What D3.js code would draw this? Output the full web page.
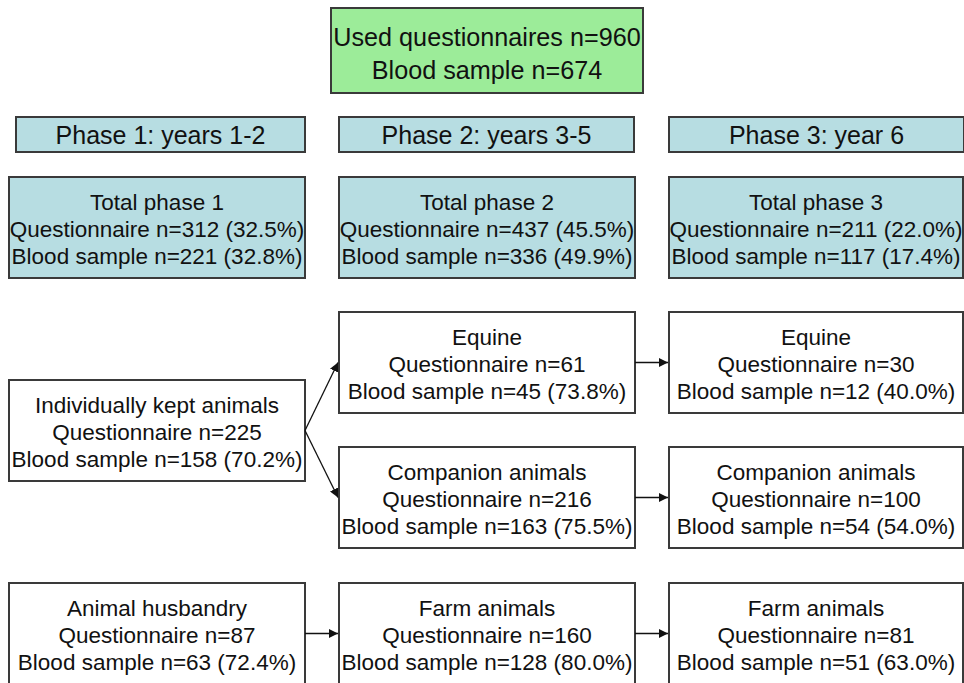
<!DOCTYPE html>
<html>
<head>
<meta charset="utf-8">
<script src="https://cdnjs.cloudflare.com/ajax/libs/d3/7.8.5/d3.min.js"></script>
<style>
  body { margin: 0; background: #fff; }
  text { font-family: "Liberation Sans", Arial, sans-serif; fill: #111; }
</style>
</head>
<body>
<script>
// ---- data ----
const topLines = ["Used questionnaires n=960", "Blood sample n=674"];

const phaseLabels = ["Phase 1: years 1-2", "Phase 2: years 3-5", "Phase 3: year 6"];

const totalTitles = ["Total phase 1", "Total phase 2", "Total phase 3"];
const totalQuest = ["n=312 (32.5%)", "n=437 (45.5%)", "n=211 (22.0%)"];
const totalBlood = ["n=221 (32.8%)", "n=336 (49.9%)", "n=117 (17.4%)"];

// group boxes, one entry per box
const groupIds = ["indiv", "equine2", "comp2", "equine3", "comp3", "husb", "farm2", "farm3"];
const groupCols = [0, 1, 1, 2, 2, 0, 1, 2];
const groupRows = ["indiv", "equine", "comp", "equine", "comp", "farm", "farm", "farm"];
const groupTitles = ["Individually kept animals", "Equine", "Companion animals", "Equine",
                     "Companion animals", "Animal husbandry", "Farm animals", "Farm animals"];
const groupQuest = ["n=225", "n=61", "n=216", "n=30", "n=100", "n=87", "n=160", "n=81"];
const groupBlood = ["n=158 (70.2%)", "n=45 (73.8%)", "n=163 (75.5%)", "n=12 (40.0%)",
                    "n=54 (54.0%)", "n=63 (72.4%)", "n=128 (80.0%)", "n=51 (63.0%)"];

const linkFrom = ["indiv", "indiv", "equine2", "comp2", "husb", "farm2"];
const linkTo   = ["equine2", "comp2", "equine3", "comp3", "farm2", "farm3"];

// ---- layout scales ----
const W = 964, H = 683;
const boxW = 296, boxH = 101;
const colX = d3.scaleOrdinal().domain([0, 1, 2]).range([9, 339, 669]);
const rowY = d3.scaleOrdinal()
  .domain(["phase", "total", "equine", "indiv", "comp", "farm"])
  .range([117, 177, 312, 380, 447, 583]);

const svg = d3.select("body").append("svg")
  .attr("width", W).attr("height", H);

svg.append("defs").append("marker")
  .attr("id", "arrow")
  .attr("viewBox", "0 0 10 10")
  .attr("refX", 10).attr("refY", 5)
  .attr("markerWidth", 9).attr("markerHeight", 9)
  .attr("markerUnits", "userSpaceOnUse")
  .attr("orient", "auto")
  .append("path").attr("d", "M0,0L10,5L0,10Z").attr("fill", "#111");

function box(x, y, w, h, fill, lines, size, gap, shift) {
  const g = svg.append("g");
  g.append("rect")
    .attr("x", x).attr("y", y).attr("width", w).attr("height", h)
    .attr("fill", fill).attr("stroke", "#3a3a3a").attr("stroke-width", 2);
  const cy = y + h / 2 + (shift || 0);
  const n = lines.length;
  g.selectAll("text").data(lines).enter().append("text")
    .attr("x", x + w / 2)
    .attr("y", (d, i) => cy + (i - (n - 1) / 2) * gap)
    .attr("dy", "0.35em")
    .attr("text-anchor", "middle")
    .attr("font-size", size)
    .text(d => d);
  return g;
}

// top box
box(331, 8, 312, 85, "#9cec99", topLines, 25.2, 33, 3);

// phase headers
phaseLabels.forEach((p, i) => {
  const x = i === 0 ? 16 : colX(i);
  const w = i === 0 ? 289 : boxW - 1;
  box(x, rowY("phase"), w, 35, "#b7dde2", [p], 25, 0, 1);
});

// totals
totalTitles.forEach((t, i) => {
  box(colX(i), rowY("total"), boxW - (i === 2 ? 2 : 0), boxH, "#b7dde2",
      [t, "Questionnaire " + totalQuest[i], "Blood sample " + totalBlood[i]], 22.5, 27, 1.5);
});

// group boxes
const pos = {};
groupIds.forEach((id, i) => {
  const x = colX(groupCols[i]);
  const y = rowY(groupRows[i]);
  const w = boxW - (groupCols[i] === 2 ? 2 : 0);
  pos[id] = {x: x, y: y, w: w, h: boxH};
  box(x, y, w, boxH, "#fff",
      [groupTitles[i], "Questionnaire " + groupQuest[i], "Blood sample " + groupBlood[i]], 22.5, 27, 1.5);
});

// arrows
linkFrom.forEach((f, i) => {
  const a = pos[f], b = pos[linkTo[i]];
  svg.append("line")
    .attr("x1", a.x + a.w).attr("y1", a.y + a.h / 2)
    .attr("x2", b.x - 1).attr("y2", b.y + b.h / 2)
    .attr("stroke", "#111").attr("stroke-width", 1.3)
    .attr("marker-end", "url(#arrow)");
});
</script>
</body>
</html>
